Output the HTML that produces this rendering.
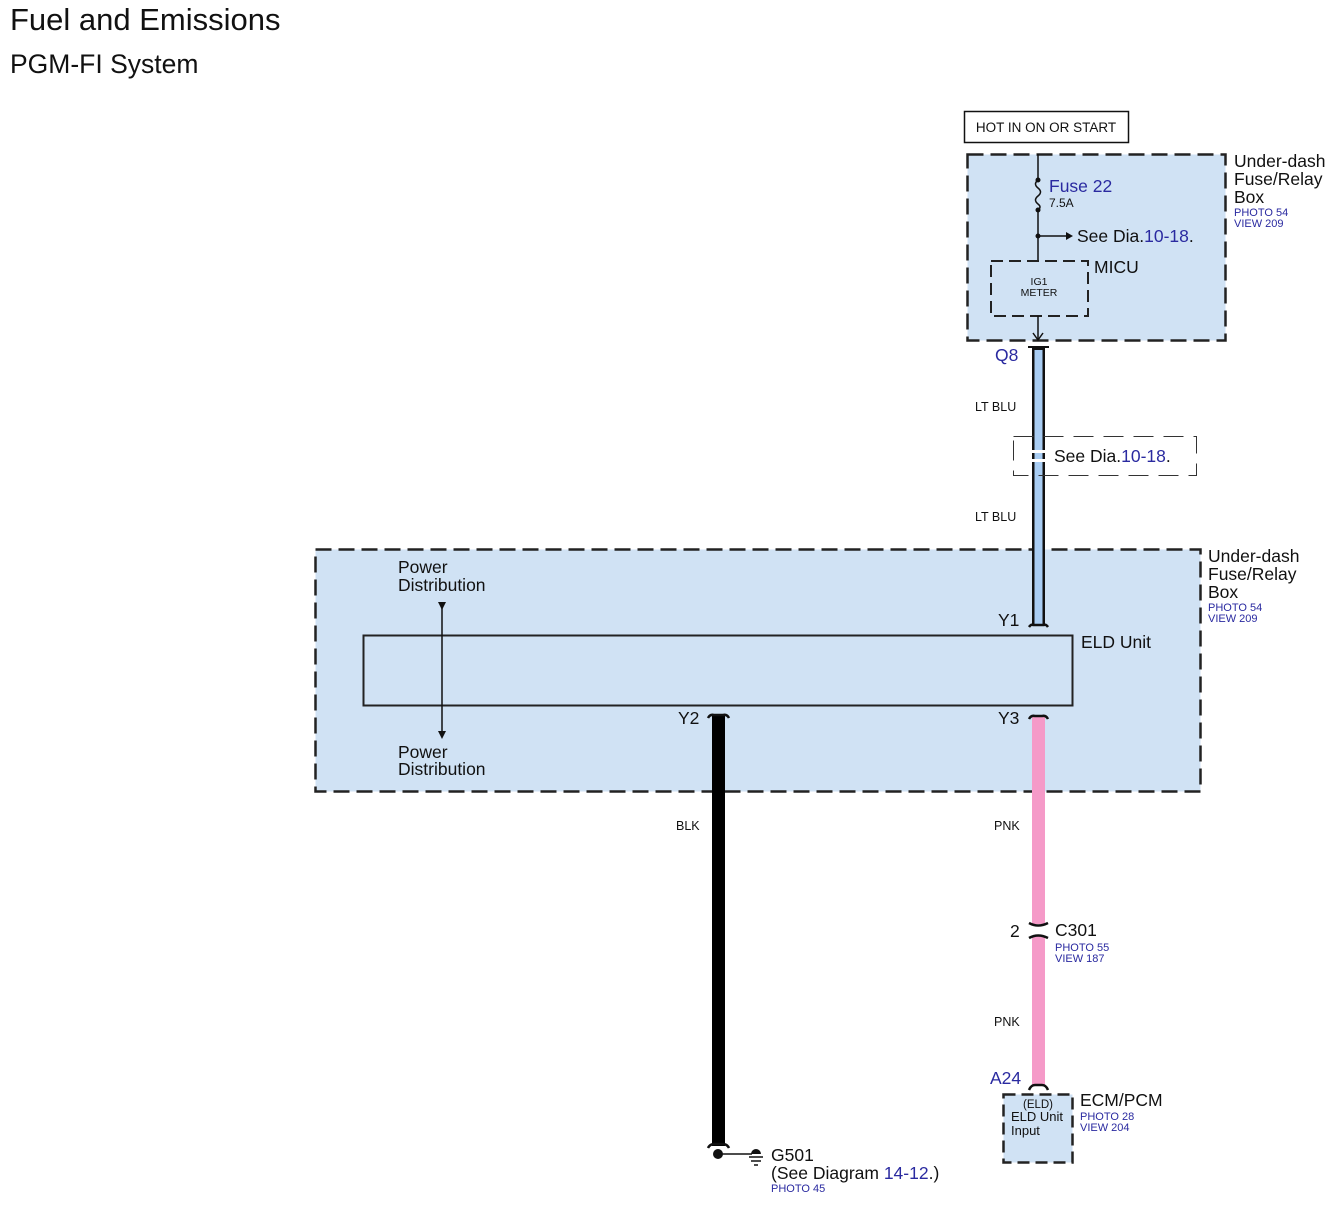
<!DOCTYPE html>
<html><head><meta charset="utf-8"><style>
html,body{margin:0;padding:0;background:#fff}
svg{display:block}
text{font-family:"Liberation Sans",Arial,sans-serif}
.m{font-size:17.5px}
.s{font-size:11px}
</style></head><body>
<svg width="1334" height="1207" viewBox="0 0 1334 1207" xmlns="http://www.w3.org/2000/svg">
<text x="10" y="30" font-size="31" fill="#111">Fuel and Emissions</text>
<text x="10" y="73" font-size="26.5" fill="#111">PGM-FI System</text>

<rect x="964.5" y="111.5" width="164" height="31" fill="#fff" stroke="#111" stroke-width="1.5"/>
<text x="1046" y="132" font-size="13.5" text-anchor="middle" fill="#111">HOT IN ON OR START</text>

<rect x="967.5" y="154.5" width="258" height="186" fill="#d0e2f4" stroke="#222" stroke-width="2.5" stroke-dasharray="16,7"/>
<text x="1234" y="167" class="m" fill="#111">Under-dash</text>
<text x="1234" y="185" class="m" fill="#111">Fuse/Relay</text>
<text x="1234" y="203" class="m" fill="#111">Box</text>
<text x="1234" y="216" class="s" fill="#2a2aa0">PHOTO 54</text>
<text x="1234" y="227" class="s" fill="#2a2aa0">VIEW 209</text>

<line x1="1038" y1="154" x2="1038" y2="180" stroke="#111" stroke-width="1.5"/>
<circle cx="1038" cy="180" r="2.5" fill="#111"/>
<path d="M1038 180 q-5 4 0 8 q5 4 0 8 q-5 4 0 8 q4 3 0 6" fill="none" stroke="#111" stroke-width="1.5"/>
<circle cx="1038" cy="210" r="2.5" fill="#111"/>
<line x1="1038" y1="210" x2="1038" y2="261" stroke="#111" stroke-width="1.5"/>
<circle cx="1038" cy="236" r="2.5" fill="#111"/>
<line x1="1038" y1="236" x2="1066" y2="236" stroke="#111" stroke-width="1.5"/>
<polygon points="1066,232 1073,236 1066,240" fill="#111"/>
<text x="1049" y="192" class="m" fill="#2a2aa0">Fuse 22</text>
<text x="1049" y="207" font-size="12" fill="#111">7.5A</text>
<text x="1077" y="242" class="m" fill="#111">See Dia.<tspan fill="#2a2aa0">10-18</tspan>.</text>

<rect x="991" y="261" width="97" height="55" fill="none" stroke="#222" stroke-width="2" stroke-dasharray="12,6"/>
<text x="1094" y="273" class="m" fill="#111">MICU</text>
<text x="1039" y="285" font-size="10.5" text-anchor="middle" fill="#111">IG1</text>
<text x="1039" y="296" font-size="10.5" text-anchor="middle" fill="#111">METER</text>
<line x1="1038" y1="316" x2="1038" y2="340" stroke="#111" stroke-width="1.5"/>
<path d="M1033 333 L1038 340 L1043 333" fill="none" stroke="#111" stroke-width="1.5"/>

<rect x="1032" y="348" width="13" height="278" fill="#111"/>
<rect x="1034.5" y="350" width="8" height="274" fill="#a9cdf3"/>
<path d="M1028 347 h21" stroke="#111" stroke-width="2"/>
<text x="995" y="361" class="m" fill="#2a2aa0">Q8</text>
<text x="975" y="411" font-size="12.5" fill="#111">LT BLU</text>
<text x="975" y="521" font-size="12.5" fill="#111">LT BLU</text>
<rect x="1013.5" y="436.5" width="183" height="39" fill="none" stroke="#333" stroke-width="1" stroke-dasharray="20,10"/>
<rect x="1032" y="450" width="13" height="3" fill="#fff"/>
<rect x="1032" y="459" width="13" height="3" fill="#fff"/>
<text x="1054" y="462" class="m" fill="#111">See Dia.<tspan fill="#2a2aa0">10-18</tspan>.</text>

<rect x="315.5" y="549.5" width="885" height="242" fill="#d0e2f4" stroke="#222" stroke-width="2.5" stroke-dasharray="16,7"/>
<text x="1208" y="562" class="m" fill="#111">Under-dash</text>
<text x="1208" y="580" class="m" fill="#111">Fuse/Relay</text>
<text x="1208" y="598" class="m" fill="#111">Box</text>
<text x="1208" y="611" class="s" fill="#2a2aa0">PHOTO 54</text>
<text x="1208" y="622" class="s" fill="#2a2aa0">VIEW 209</text>

<rect x="1032" y="540" width="13" height="86" fill="#111"/>
<rect x="1034.5" y="540" width="8" height="84" fill="#a9cdf3"/>
<path d="M1029 627 q2 -3 4 -2 h11 q2 -1 4 2" stroke="#111" stroke-width="2.5" fill="none"/>

<rect x="363.5" y="635.5" width="709" height="70" fill="none" stroke="#222" stroke-width="2"/>
<text x="1081" y="648" class="m" fill="#111">ELD Unit</text>
<text x="998" y="626" class="m" fill="#111">Y1</text>
<text x="998" y="724" class="m" fill="#111">Y3</text>
<text x="678" y="724" class="m" fill="#111">Y2</text>

<text x="398" y="573" class="m" fill="#111">Power</text>
<text x="398" y="591" class="m" fill="#111">Distribution</text>
<text x="398" y="758" class="m" fill="#111">Power</text>
<text x="398" y="775" class="m" fill="#111">Distribution</text>
<line x1="442" y1="603" x2="442" y2="736" stroke="#111" stroke-width="1.5"/>
<polygon points="438,602 446,602 442,610" fill="#111"/>
<polygon points="438,731 446,731 442,739" fill="#111"/>

<rect x="712" y="716" width="13" height="430" fill="#000"/>
<path d="M708 718 q2 -4 6 -3 h9 q4 -1 6 3" stroke="#111" stroke-width="2.5" fill="none"/>
<text x="676" y="830" font-size="12.5" fill="#111">BLK</text>
<path d="M708 1148 q2 -4 6 -4 h9 q4 0 6 4" stroke="#111" stroke-width="2.5" fill="none"/>
<circle cx="718" cy="1154" r="5" fill="#111"/>
<line x1="718" y1="1154" x2="752" y2="1154" stroke="#111" stroke-width="1.5"/>
<path d="M751 1154 a5 5 0 0 1 10 0 z" fill="#111"/>
<line x1="749" y1="1157" x2="763" y2="1157" stroke="#111" stroke-width="1.5"/>
<line x1="751" y1="1161" x2="761" y2="1161" stroke="#111" stroke-width="1.5"/>
<line x1="754" y1="1165" x2="758" y2="1165" stroke="#111" stroke-width="1.5"/>
<text x="771" y="1161" class="m" fill="#111">G501</text>
<text x="771" y="1179" class="m" fill="#111">(See Diagram <tspan fill="#2a2aa0">14-12</tspan>.)</text>
<text x="771" y="1192" class="s" fill="#2a2aa0">PHOTO 45</text>

<rect x="1032" y="716" width="13" height="208" fill="#f59ac8"/>
<rect x="1032" y="936" width="13" height="150" fill="#f59ac8"/>
<path d="M1029 719 q2 -4 6 -3 h7 q4 -1 6 3" stroke="#111" stroke-width="2.5" fill="none"/>
<text x="994" y="830" font-size="12.5" fill="#111">PNK</text>
<path d="M1029 923 q9 5 19 0 M1029 938 q9 -5 19 0" stroke="#111" stroke-width="2.5" fill="none"/>
<text x="1010" y="937" class="m" fill="#111">2</text>
<text x="1055" y="936" class="m" fill="#111">C301</text>
<text x="1055" y="951" class="s" fill="#2a2aa0">PHOTO 55</text>
<text x="1055" y="962" class="s" fill="#2a2aa0">VIEW 187</text>
<text x="994" y="1026" font-size="12.5" fill="#111">PNK</text>
<text x="990" y="1084" class="m" fill="#2a2aa0">A24</text>
<path d="M1029 1090 q2 -5 6 -5 h7 q4 0 6 5" stroke="#111" stroke-width="2.5" fill="none"/>

<rect x="1003.5" y="1094.5" width="69" height="68" fill="#d0e2f4" stroke="#222" stroke-width="2.5" stroke-dasharray="12,6"/>
<text x="1038" y="1108" font-size="11.5" text-anchor="middle" fill="#111">(ELD)</text>
<text x="1011" y="1121" font-size="13" fill="#111">ELD Unit</text>
<text x="1011" y="1135" font-size="13" fill="#111">Input</text>
<text x="1080" y="1106" class="m" fill="#111">ECM/PCM</text>
<text x="1080" y="1120" class="s" fill="#2a2aa0">PHOTO 28</text>
<text x="1080" y="1131" class="s" fill="#2a2aa0">VIEW 204</text>
</svg>
</body></html>
